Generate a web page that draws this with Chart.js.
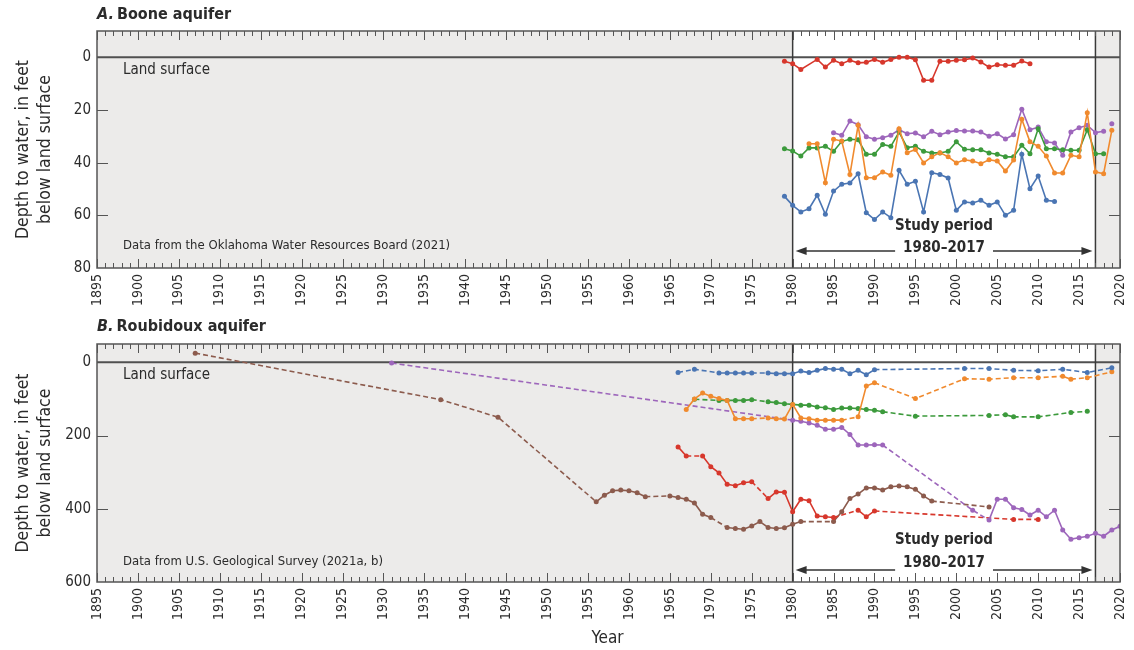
<!DOCTYPE html>
<html><head><meta charset="utf-8">
<script src="https://cdn.jsdelivr.net/npm/chart.js@4.4.0/dist/chart.umd.min.js"></script>
<style>
html,body{margin:0;padding:0;background:#fff;}
#wrap{position:relative;width:1134px;height:650px;overflow:hidden;}
canvas{position:absolute;left:0;}
#cA{top:0;} #cB{top:312px;}
</style></head><body>
<div id="wrap">
<canvas id="cA" width="1134" height="312"></canvas>
<canvas id="cB" width="1134" height="338"></canvas>
</div>
<script>
// ---------- DATA ----------
const xMin = 1895, xMax = 2020;
const yearLabels = [1895,1900,1905,1910,1915,1920,1925,1930,1935,1940,1945,1950,1955,1960,1965,1970,1975,1980,1985,1990,1995,2000,2005,2010,2015,2020];
const studyStart = 1980, studyEnd = 2017;
const booneTicks = [0,20,40,60,80];
const roubTicks = [0,200,400,600];

// A. Boone aquifer
const booneRedYears = [1979,1980,1981,1983,1984,1985,1986,1987,1988,1989,1990,1991,1992,1993,1994,1995,1996,1997,1998,1999,2000,2001,2002,2003,2004,2005,2006,2007,2008,2009];
const booneRedDepth = [1.5,2.4,4.6,0.8,3.7,1.1,2.4,1.1,2.1,1.9,0.8,1.9,0.8,0,0,0.9,8.7,8.7,1.5,1.5,1.1,0.9,0.3,1.8,3.7,2.8,3.0,3.0,1.4,2.4];

const boonePurpleYears = [1985,1986,1987,1988,1989,1990,1991,1992,1993,1994,1995,1996,1997,1998,1999,2000,2001,2002,2003,2004,2005,2006,2007,2008,2009,2010,2011,2012,2013,2014,2015,2016,2017,2018];
const boonePurpleDepth = [28.6,29.6,24.2,25.6,30.2,31.1,30.5,29.6,27.5,29.0,28.7,30.2,28.1,29.4,28.4,27.8,28.0,28.0,28.4,30.0,29.0,31.0,29.4,19.7,27.5,26.5,32.1,32.5,37.2,28.4,26.7,25.8,28.6,28.1];
const boonePurpleLateYears = [2019];
const boonePurpleLateDepth = [25.2];

const booneGreenYears = [1979,1980,1981,1982,1983,1984,1985,1986,1987,1988,1989,1990,1991,1992,1993,1994,1995,1996,1997,1998,1999,2000,2001,2002,2003,2004,2005,2006,2007,2008,2009,2010,2011,2012,2013,2014,2015,2016,2017,2018];
const booneGreenDepth = [34.7,35.6,37.5,34.4,34.4,33.8,35.7,31.9,31.1,31.3,36.8,36.8,33.1,33.8,28.4,34.3,33.8,35.7,36.3,36.3,35.7,32.1,34.9,35.1,35.1,36.3,36.8,37.8,37.8,33.4,36.6,27.1,34.7,34.7,35.1,35.3,35.3,27.5,36.6,36.6];

const booneOrangeYears = [1982,1983,1984,1985,1986,1987,1988,1989,1990,1991,1992,1993,1994,1995,1996,1997,1998,1999,2000,2001,2002,2003,2004,2005,2006,2007,2008,2009,2010,2011,2012,2013,2014,2015,2016,2017,2018,2019];
const booneOrangeDepth = [32.8,32.8,47.6,31.1,31.8,44.5,25.8,45.7,45.7,43.5,44.8,27.1,36.2,35.0,40.1,37.8,36.2,37.8,40.1,38.9,39.4,40.4,38.9,39.4,43.2,39.0,23.5,32.1,33.8,37.5,43.9,43.9,37.2,37.8,21.0,43.5,44.2,27.7];

const booneBlueYears = [1979,1980,1981,1982,1983,1984,1985,1986,1987,1988,1989,1990,1991,1992,1993,1994,1995,1996,1997,1998,1999,2000,2001,2002,2003,2004,2005,2006,2007,2008,2009,2010,2011,2012];
const booneBlueDepth = [52.8,56.2,58.7,57.5,52.4,59.6,50.8,48.2,47.7,44.2,59.0,61.6,58.7,60.9,42.9,48.2,47.1,58.7,43.8,44.5,45.8,58.1,54.9,55.3,54.3,56.2,54.9,60.0,58.1,36.8,49.9,45.1,54.3,54.7];

// B. Roubidoux aquifer
const roubBlueYears = [1966,1968,1971,1972,1973,1974,1975,1977,1978,1979,1980,1981,1982,1983,1984,1985,1986,1987,1988,1989,1990,2001,2004,2007,2010,2013,2016,2019];
const roubBlueDepth = [28,19,29,29,29,29,29,29,31,31,31,24,28,22,17,19,19,31,22,34,20,17,17,22,23,19,28,15];

const roubOrangeYears = [1967,1968,1969,1970,1971,1972,1973,1974,1975,1977,1978,1979,1980,1981,1982,1983,1984,1985,1986,1988,1989,1990,1995,2001,2004,2007,2010,2013,2014,2016,2019];
const roubOrangeDepth = [129,100,84,93,99,104,154,154,154,152,154,155,115,152,154,158,158,158,158,149,65,56,99,45,46,42,42,38,46,42,26];

const roubGreenYears = [1968,1971,1972,1973,1974,1975,1977,1978,1979,1980,1981,1982,1983,1984,1985,1986,1987,1988,1989,1990,1991,1995,2004,2006,2007,2010,2014,2016];
const roubGreenDepth = [101,104,104,104,104,102,108,110,113,115,117,117,122,124,129,125,125,126,129,131,135,147,145,143,149,149,137,134];

const roubPurpleYears = [1931,1980,1981,1982,1983,1984,1985,1986,1987,1988,1989,1990,1991,2002,2004,2005,2006,2007,2008,2009,2010,2011,2012,2013,2014,2015,2016,2017,2018,2019,2020];
const roubPurpleDepth = [2,158,161,166,172,183,183,178,197,226,226,225,226,404,431,374,374,397,402,417,404,422,404,458,483,479,475,467,475,458,448];

const roubRedYears = [1966,1967,1969,1970,1971,1972,1973,1974,1975,1977,1978,1979,1980,1981,1982,1983,1984,1985,1988,1989,1990,2007,2010];
const roubRedDepth = [231,256,256,285,302,333,337,329,326,372,354,355,408,374,378,420,422,424,404,422,406,429,429];

const roubBrownYears = [1907,1937,1944,1956,1957,1958,1959,1960,1961,1962,1965,1966,1967,1968,1969,1970,1972,1973,1974,1975,1976,1977,1978,1979,1980,1981,1985,1986,1987,1988,1989,1990,1991,1992,1993,1994,1995,1996,1997,2004];
const roubBrownDepth = [-25,102,150,381,363,351,349,351,356,367,365,369,374,384,415,424,451,454,456,447,435,451,454,452,442,435,435,408,372,360,343,343,349,340,338,340,347,365,379,395];

// ---------- STYLE ----------
const FONT = "'Liberation Sans Narrow','Arial Narrow','DejaVu Sans Condensed','Liberation Sans',sans-serif";
const TXT = '#2b2b2b';
const GRAY = '#ecebea';
const C = {red:'#d7372c', orange:'#f08a2e', green:'#3c9a3c', blue:'#4a75b3', purple:'#9d66bb', brown:'#8c5b4d'};

function pts(xs, ys){ return xs.map((x,i)=>({x:x, y:ys[i]})); }
function series(label, xs, ys, color, dashGaps){
  const d = {label, data: pts(xs, ys), borderColor: color, backgroundColor: color,
    borderWidth: 1.6, pointRadius: 2.5, pointHoverRadius: 2.5, pointBorderWidth: 0,
    tension: 0, fill: false};
  if (dashGaps) d.segment = { borderDash: c => (c.p1.parsed.x - c.p0.parsed.x > 1.5 ? [5,3] : undefined) };
  return d;
}

const decor = {
  id: 'decor',
  beforeDatasetsDraw(chart, args, o){
    const {ctx, chartArea:a, scales:{x, y}} = chart;
    ctx.save();
    ctx.fillStyle = '#fff'; ctx.fillRect(a.left, a.top, a.width, a.height);
    ctx.fillStyle = GRAY;
    const p0 = x.getPixelForValue(xMin), p1 = x.getPixelForValue(studyStart),
          p2 = x.getPixelForValue(studyEnd), p3 = x.getPixelForValue(xMax);
    ctx.fillRect(p0, a.top, p1-p0, a.height);
    ctx.fillRect(p2, a.top, p3-p2, a.height);
    const y0 = y.getPixelForValue(0);
    ctx.strokeStyle = '#505050'; ctx.lineWidth = 2;
    ctx.beginPath(); ctx.moveTo(a.left, y0); ctx.lineTo(a.right, y0); ctx.stroke();
    ctx.strokeStyle = '#3a3a3a'; ctx.lineWidth = 1.5;
    [p1, p2].forEach(p => { ctx.beginPath(); ctx.moveTo(p, a.top); ctx.lineTo(p, a.bottom); ctx.stroke(); });
    ctx.fillStyle = TXT; ctx.textAlign = 'left'; ctx.textBaseline = 'middle';
    ctx.font = '15px ' + FONT;
    ctx.fillText('Land surface', a.left + 26, y0 + 13);
    ctx.font = '13px ' + FONT;
    ctx.fillText(o.note, a.left + 26, a.bottom - o.noteOff);
    ctx.restore();
  },
  afterDatasetsDraw(chart, args, o){
    const {ctx, chartArea:a, scales:{x, y}} = chart;
    ctx.save();
    ctx.strokeStyle = '#555'; ctx.lineWidth = 1.5;
    ctx.strokeRect(a.left, a.top, a.width, a.height);
    ctx.lineWidth = 1; ctx.strokeStyle = '#555';
    ctx.beginPath();
    for (let yr = xMin; yr <= xMax; yr++){
      const px = Math.round(x.getPixelForValue(yr)) + 0.5;
      const len = yr % 5 === 0 ? 9 : 5;
      ctx.moveTo(px, a.bottom); ctx.lineTo(px, a.bottom - len);
      ctx.moveTo(px, a.top); ctx.lineTo(px, a.top + len);
    }
    o.yInner.forEach(v => {
      const py = Math.round(y.getPixelForValue(v)) + 0.5;
      ctx.moveTo(a.left, py); ctx.lineTo(a.left + 11, py);
      ctx.moveTo(a.right, py); ctx.lineTo(a.right - 11, py);
    });
    ctx.stroke();
    const p1 = x.getPixelForValue(studyStart), p2 = x.getPixelForValue(studyEnd);
    const cx = (p1 + p2) / 2;
    ctx.fillStyle = TXT; ctx.textAlign = 'center'; ctx.textBaseline = 'middle';
    ctx.font = 'bold 15px ' + FONT;
    ctx.fillText('Study period', cx, a.bottom - o.spOff);
    ctx.fillText('1980\u20132017', cx, a.bottom - o.yrOff);
    const ay = a.bottom - o.arOff;
    const w = ctx.measureText('1980\u20132017').width;
    ctx.strokeStyle = '#333'; ctx.lineWidth = 1.3;
    ctx.beginPath();
    ctx.moveTo(p1 + 10, ay); ctx.lineTo(cx - w/2 - 8, ay);
    ctx.moveTo(cx + w/2 + 8, ay); ctx.lineTo(p2 - 10, ay);
    ctx.stroke();
    ctx.fillStyle = '#333';
    ctx.beginPath(); ctx.moveTo(p1 + 3, ay); ctx.lineTo(p1 + 14, ay - 4); ctx.lineTo(p1 + 14, ay + 4); ctx.closePath(); ctx.fill();
    ctx.beginPath(); ctx.moveTo(p2 - 3, ay); ctx.lineTo(p2 - 14, ay - 4); ctx.lineTo(p2 - 14, ay + 4); ctx.closePath(); ctx.fill();
    ctx.restore();
  },
  afterDraw(chart, args, o){
    const {ctx, chartArea:a} = chart;
    ctx.save();
    ctx.fillStyle = TXT; ctx.textBaseline = 'middle'; ctx.textAlign = 'left';
    ctx.font = 'italic bold 16px ' + FONT;
    ctx.fillText(o.letter, a.left, o.titleY);
    const lw = ctx.measureText(o.letter).width;
    ctx.font = 'bold 16px ' + FONT;
    ctx.fillText(o.title, a.left + lw + 3, o.titleY);
    const cy = (a.top + a.bottom) / 2;
    ctx.font = '17.5px ' + FONT; ctx.textAlign = 'center';
    [['Depth to water, in feet', 23], ['below land surface', 45]].forEach(([t, px]) => {
      ctx.save(); ctx.translate(px, cy); ctx.rotate(-Math.PI/2); ctx.fillText(t, 0, 0); ctx.restore();
    });
    if (o.xTitle){
      ctx.font = '17px ' + FONT;
      ctx.fillText(o.xTitle, (a.left + a.right)/2 - 1, o.xTitleY);
    }
    ctx.restore();
  }
};

function makeChart(id, datasets, yMin, yMax, yTicks, padTop, xHeight, decorOpts){
  return new Chart(document.getElementById(id), {
    type: 'line',
    data: { datasets },
    plugins: [decor],
    options: {
      responsive: false, animation: false, events: [],
      layout: { padding: { left: 0, right: 14, top: padTop, bottom: 0 } },
      plugins: { legend: {display:false}, tooltip: {enabled:false}, decor: decorOpts },
      scales: {
        x: { type: 'linear', min: xMin, max: xMax,
             afterBuildTicks: s => { s.ticks = yearLabels.map(v => ({value: v})); },
             afterFit: s => { s.height = xHeight; s.paddingLeft = 0; s.paddingRight = 0; },
             grid: { display: false, drawTicks: false }, border: { display: false },
             ticks: { autoSkip: false, minRotation: 90, maxRotation: 90, padding: 6,
                      color: TXT, font: { family: FONT, size: 14 }, callback: v => String(v) } },
        y: { type: 'linear', reverse: true, min: yMin, max: yMax,
             afterBuildTicks: s => { s.ticks = yTicks.map(v => ({value: v})); },
             afterFit: s => { s.width = 97; s.paddingTop = 0; s.paddingBottom = 0; },
             grid: { display: false, drawTicks: false }, border: { display: false },
             ticks: { padding: 6, color: TXT, font: { family: FONT, size: 15 }, callback: v => String(v) } }
      }
    }
  });
}

const boonePurpleLate = series('Purple 2019', boonePurpleLateYears, boonePurpleLateDepth, C.purple, false);

makeChart('cA', [
  series('Blue', booneBlueYears, booneBlueDepth, C.blue, false),
  series('Orange', booneOrangeYears, booneOrangeDepth, C.orange, false),
  series('Green', booneGreenYears, booneGreenDepth, C.green, false),
  series('Purple', boonePurpleYears, boonePurpleDepth, C.purple, false),
  boonePurpleLate,
  series('Red', booneRedYears, booneRedDepth, C.red, false)
], -10, 80, booneTicks, 31, 44, {
  note: 'Data from the Oklahoma Water Resources Board (2021)', noteOff: 22,
  yInner: [20,40,60], spOff: 42, yrOff: 20, arOff: 17,
  letter: 'A.', title: 'Boone aquifer', titleY: 15
});

makeChart('cB', [
  series('Blue', roubBlueYears, roubBlueDepth, C.blue, true),
  series('Orange', roubOrangeYears, roubOrangeDepth, C.orange, true),
  series('Green', roubGreenYears, roubGreenDepth, C.green, true),
  series('Purple', roubPurpleYears, roubPurpleDepth, C.purple, true),
  series('Red', roubRedYears, roubRedDepth, C.red, true),
  series('Brown', roubBrownYears, roubBrownDepth, C.brown, true)
], -50, 600, roubTicks, 32, 68, {
  note: 'Data from U.S. Geological Survey (2021a, b)', noteOff: 20,
  yInner: [200,400], spOff: 42, yrOff: 19, arOff: 12,
  letter: 'B.', title: 'Roubidoux aquifer', titleY: 15,
  xTitle: 'Year', xTitleY: 327
});
</script>
</body></html>
